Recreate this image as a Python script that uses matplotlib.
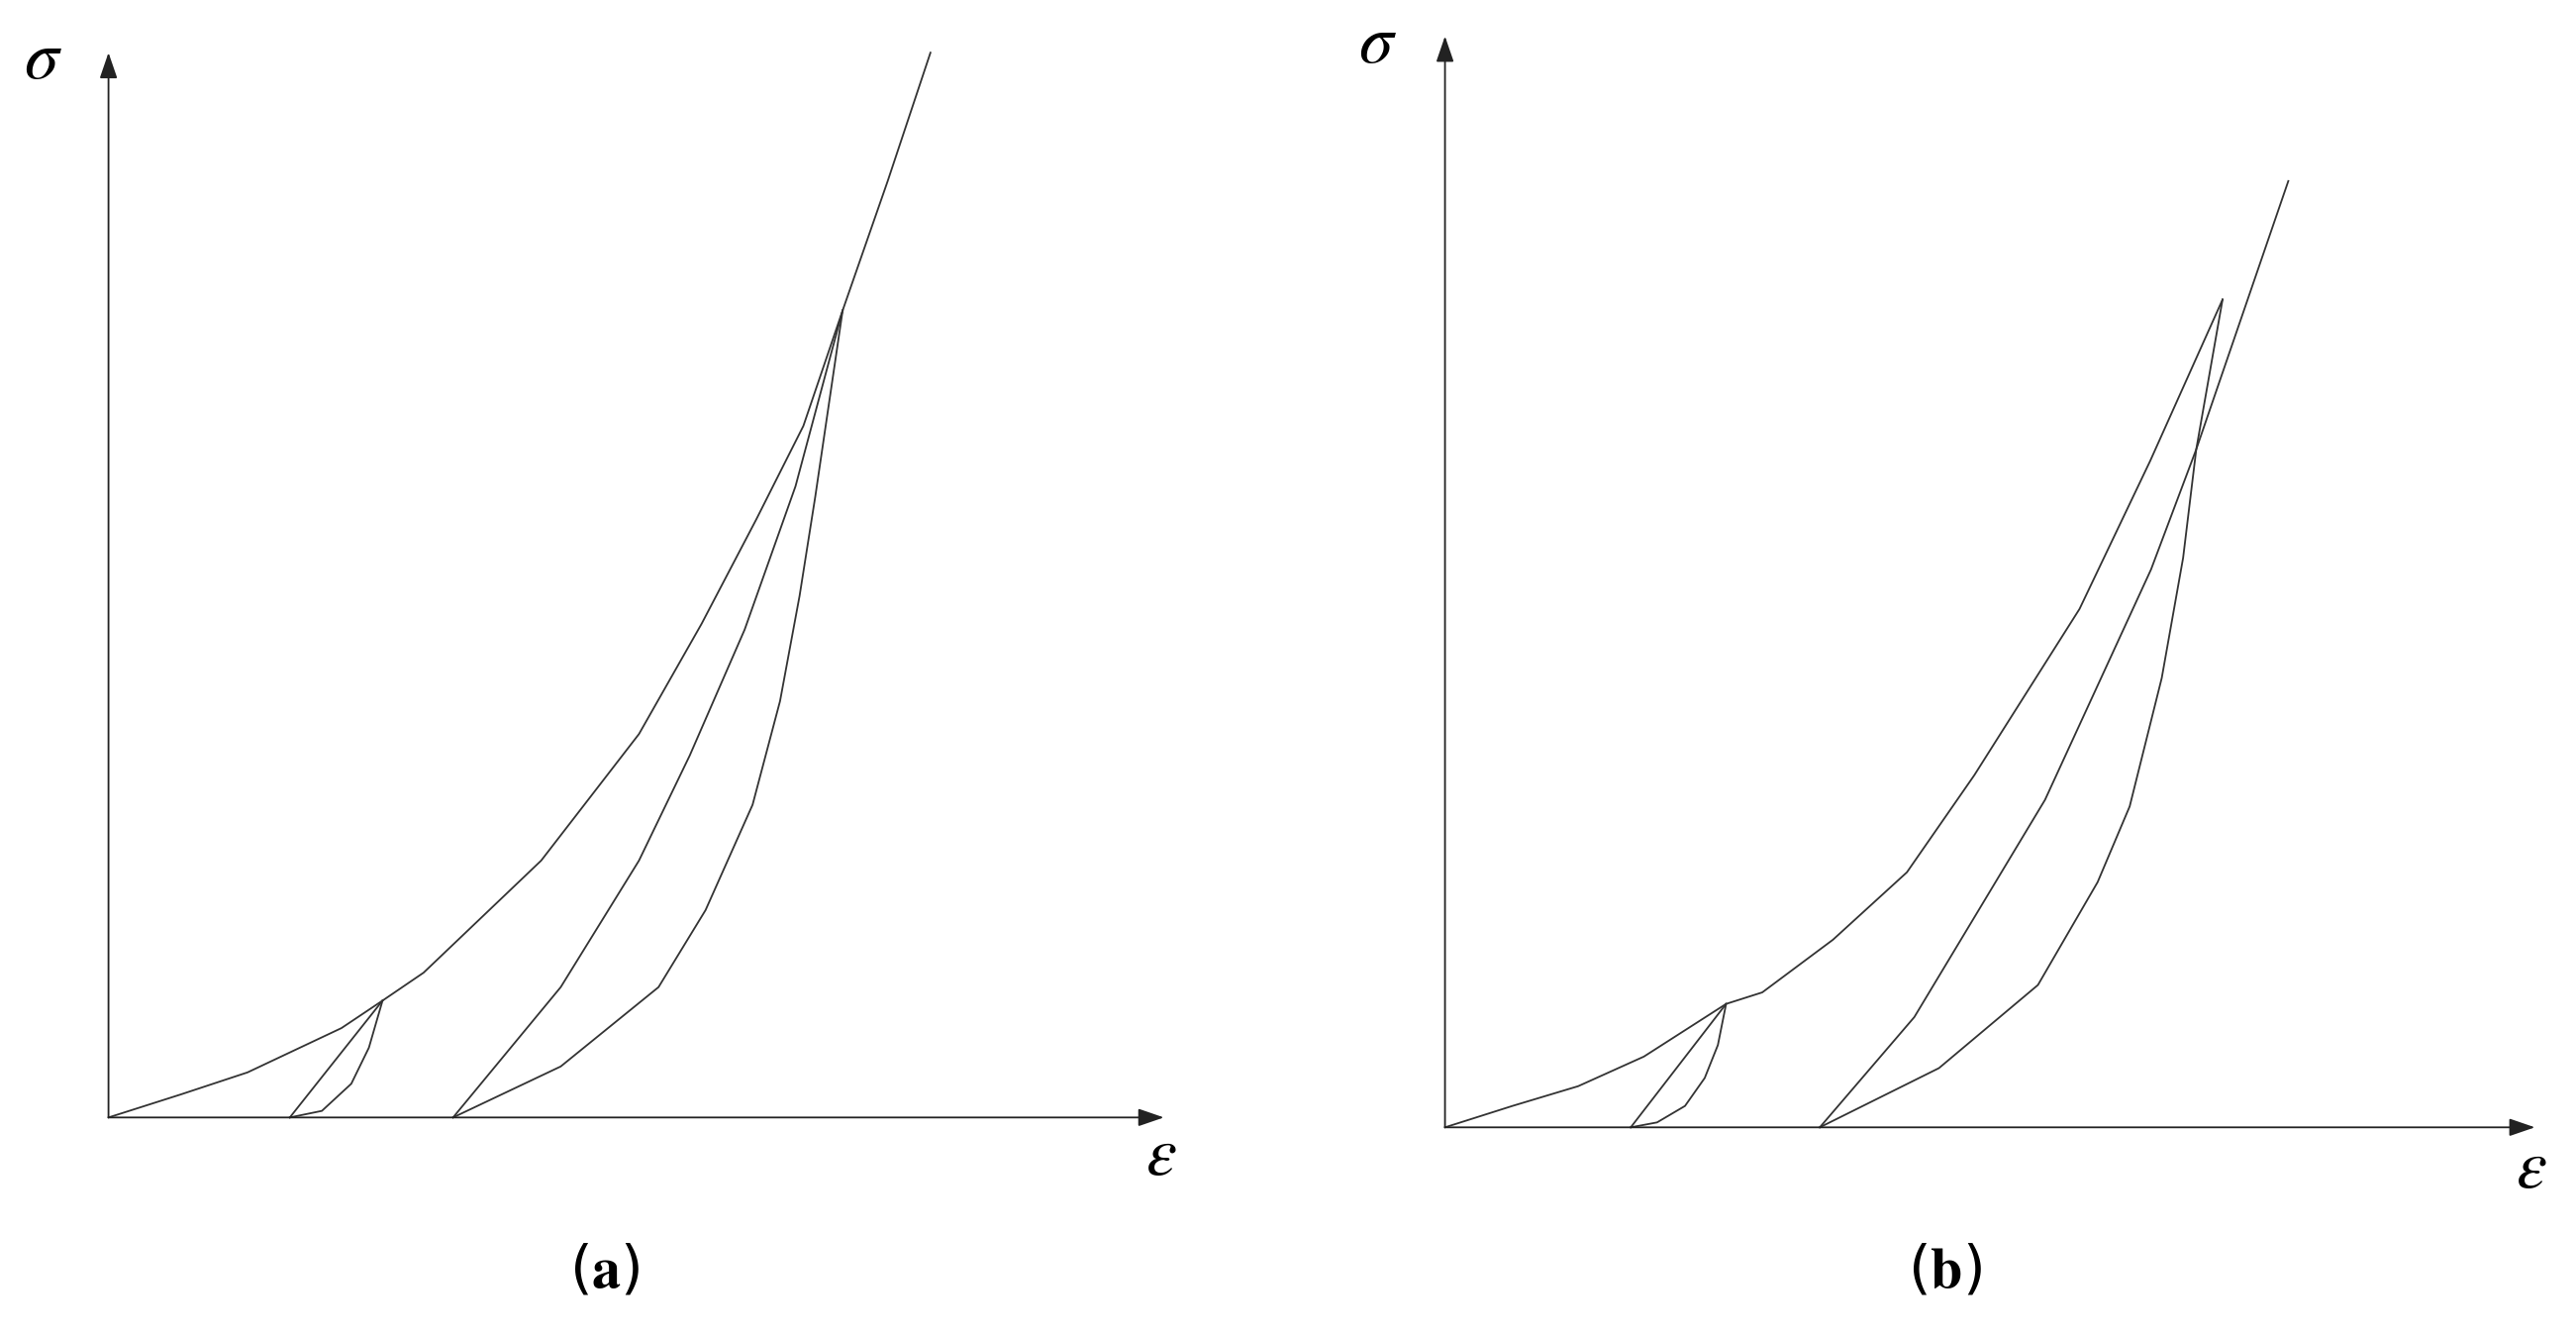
import matplotlib.pyplot as plt

plt.rcParams["mathtext.fontset"] = "stix"

# Readings taken in the reference's pixel frame (1567 x 813 view)
W, H = 1567, 813

# panel (a)
a_origin = (66, 679)
a_load_x = [66, 110, 150.6, 207.7, 232.7, 257.7, 329.2, 388.7, 426.8, 460.1, 488.7, 512.6, 540, 566]
a_load_y = [679, 665, 651.6, 624.7, 608, 591, 522.9, 446, 379, 315.5, 258.8, 188.6, 110, 32]
a_un1_x = [232.7, 176.3]
a_un1_y = [608, 679]
a_re1_x = [176.3, 195.8, 213.7, 224.4, 232.7]
a_re1_y = [679, 675, 658.5, 636.6, 608]
a_un2_x = [512.6, 483.9, 453, 419.6, 388.7, 341.1, 275.6]
a_un2_y = [188.6, 295.5, 382.5, 459, 522.9, 599.8, 679]
a_re2_x = [275.6, 341.1, 400.6, 429.2, 457.8, 474.5, 486.4, 495.9, 512.6]
a_re2_y = [679, 648, 599.8, 553, 489, 426, 362, 302, 188.6]

# panel (b)
b_origin = (879, 685)
b_load_x = [879, 920, 960, 1000, 1050, 1072, 1115, 1160, 1201, 1265, 1308, 1352]
b_load_y = [685, 672, 660, 642, 610, 603, 571, 530, 471, 370, 280, 182]
b_un1_x = [1050, 992]
b_un1_y = [610, 685]
b_re1_x = [992, 1008, 1025, 1037, 1045, 1050]
b_re1_y = [685, 682, 672, 655, 635, 610]
b_un2_x = [1352, 1336, 1328, 1315, 1295.5, 1276, 1239.7, 1179.5, 1107]
b_un2_y = [182, 273, 339, 412, 490, 536, 598.5, 649, 685]
b_re2_x = [1107, 1164.5, 1244, 1308.5, 1336, 1392]
b_re2_y = [685, 618, 486, 346, 273, 110]

fig = plt.figure(figsize=(26.02, 13.51), dpi=100)
ax = fig.add_axes([0, 0, 1, 1])
ax.set_xlim(0, W)
ax.set_ylim(H, 0)
ax.axis("off")

lw = 1.3
col = "#333333"
for xs, ys in [(a_load_x, a_load_y), (a_un1_x, a_un1_y), (a_re1_x, a_re1_y),
               (a_un2_x, a_un2_y), (a_re2_x, a_re2_y),
               (b_load_x, b_load_y), (b_un1_x, b_un1_y), (b_re1_x, b_re1_y),
               (b_un2_x, b_un2_y), (b_re2_x, b_re2_y)]:
    ax.plot(xs, ys, color=col, lw=lw, solid_joinstyle="round")


def axes_arrows(origin, xend, ytop):
    ox, oy = origin
    kw = dict(arrowstyle="-|>,head_length=1.6,head_width=0.55", color="#222222", lw=lw,
              shrinkA=0, shrinkB=0)
    ax.annotate("", xy=(xend, oy), xytext=(ox, oy), arrowprops=kw)
    ax.annotate("", xy=(ox, ytop), xytext=(ox, oy), arrowprops=kw)


axes_arrows(a_origin, 708, 32)
axes_arrows(b_origin, 1542, 22)

sym = dict(fontsize=50, ha="center", va="center")
ax.text(26, 36, r"$\sigma$", **sym)
ax.text(706, 702, r"$\varepsilon$", **sym)
ax.text(838, 26, r"$\sigma$", **sym)
ax.text(1540, 710, r"$\varepsilon$", **sym)

lab = dict(fontsize=42, ha="center", va="center")
ax.text(368, 772, r"($\mathbf{a}$)", **lab)
ax.text(1183, 772, r"($\mathbf{b}$)", **lab)

fig.savefig("out.png", dpi=100)
